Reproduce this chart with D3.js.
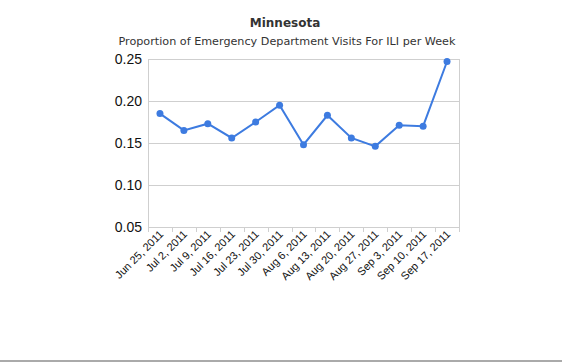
<!DOCTYPE html>
<html>
<head>
<meta charset="utf-8">
<script src="https://cdn.jsdelivr.net/npm/d3@7"></script>
<style>
  body { margin: 0; background: #fff; }
  svg { display: block; }
</style>
</head>
<body>
<svg id="chart" width="562" height="362"></svg>
<script>
// weekly values
const weeks = ["Jun 25, 2011", "Jul 2, 2011", "Jul 9, 2011", "Jul 16, 2011", "Jul 23, 2011",
  "Jul 30, 2011", "Aug 6, 2011", "Aug 13, 2011", "Aug 20, 2011", "Aug 27, 2011",
  "Sep 3, 2011", "Sep 10, 2011", "Sep 17, 2011"]
const ili = [0.185, 0.165, 0.173, 0.156, 0.175, 0.195, 0.148, 0.183, 0.156, 0.146, 0.171, 0.170, 0.247]
const yTicks = [0.05, 0.10, 0.15, 0.20, 0.25]

const svg = d3.select('#chart')
const plotL = 148, plotR = 459, plotT = 59, plotB = 227

const x = d3.scaleBand().domain(weeks).range([plotL, plotR])
const y = d3.scaleLinear().domain([0.05, 0.25]).range([plotB, plotT])

// titles
svg.append('text')
  .attr('x', 285).attr('y', 27)
  .attr('text-anchor', 'middle')
  .style('font-family', 'DejaVu Sans, Verdana, sans-serif')
  .style('font-weight', 'bold')
  .style('font-size', '12px')
  .attr('fill', '#333')
  .text('Minnesota')

svg.append('text')
  .attr('x', 287).attr('y', 45)
  .attr('text-anchor', 'middle')
  .style('font-family', 'DejaVu Sans, Verdana, sans-serif')
  .style('font-size', '11.2px')
  .attr('fill', '#333')
  .text('Proportion of Emergency Department Visits For ILI per Week')

// grid lines
svg.append('g')
  .selectAll('line')
  .data(yTicks)
  .enter()
  .append('line')
  .attr('x1', plotL).attr('x2', plotR)
  .attr('y1', d => y(d) + 0.5).attr('y2', d => y(d) + 0.5)
  .attr('stroke', '#cfcfcf')

// side borders
svg.append('line')
  .attr('x1', plotL + 0.5).attr('x2', plotL + 0.5).attr('y1', plotT).attr('y2', plotB + 5)
  .attr('stroke', '#cfcfcf')
svg.append('line')
  .attr('x1', plotR + 0.5).attr('x2', plotR + 0.5).attr('y1', plotT).attr('y2', plotB + 5)
  .attr('stroke', '#cfcfcf')

// y axis labels
svg.append('g')
  .selectAll('text')
  .data(yTicks)
  .enter()
  .append('text')
  .attr('x', plotL - 6)
  .attr('y', d => y(d) + 5)
  .attr('text-anchor', 'end')
  .style('font-family', 'Liberation Sans, Arial, sans-serif')
  .style('font-size', '14px')
  .attr('fill', '#111')
  .text(d => d.toFixed(2))

// x ticks at band edges
svg.append('g')
  .selectAll('line')
  .data(weeks)
  .enter()
  .append('line')
  .attr('x1', d => Math.round(x(d)) + 0.5).attr('x2', d => Math.round(x(d)) + 0.5)
  .attr('y1', plotB).attr('y2', plotB + 5)
  .attr('stroke', '#cfcfcf')

// x labels rotated
svg.append('g')
  .selectAll('text')
  .data(weeks)
  .enter()
  .append('text')
  .attr('transform', d => `translate(${x(d) + x.bandwidth() / 2 + 4},${plotB + 8}) rotate(-45)`)
  .attr('text-anchor', 'end')
  .style('font-family', 'Liberation Sans, Arial, sans-serif')
  .style('font-size', '11px')
  .attr('fill', '#111')
  .text(d => d)

// line + points
const cx = (d, i) => x(weeks[i]) + x.bandwidth() / 2
const lineGen = d3.line().x(cx).y(d => y(d))

svg.append('path')
  .datum(ili)
  .attr('d', lineGen)
  .attr('fill', 'none')
  .attr('stroke', '#3d7be0')
  .attr('stroke-width', 2)

svg.append('g')
  .selectAll('circle')
  .data(ili)
  .enter()
  .append('circle')
  .attr('cx', cx)
  .attr('cy', d => y(d))
  .attr('r', 3.5)
  .attr('fill', '#3d7be0')

// bottom frame line
svg.append('rect')
  .attr('x', 0).attr('y', 360).attr('width', 562).attr('height', 2)
  .attr('fill', '#aaa')
</script>
</body>
</html>
